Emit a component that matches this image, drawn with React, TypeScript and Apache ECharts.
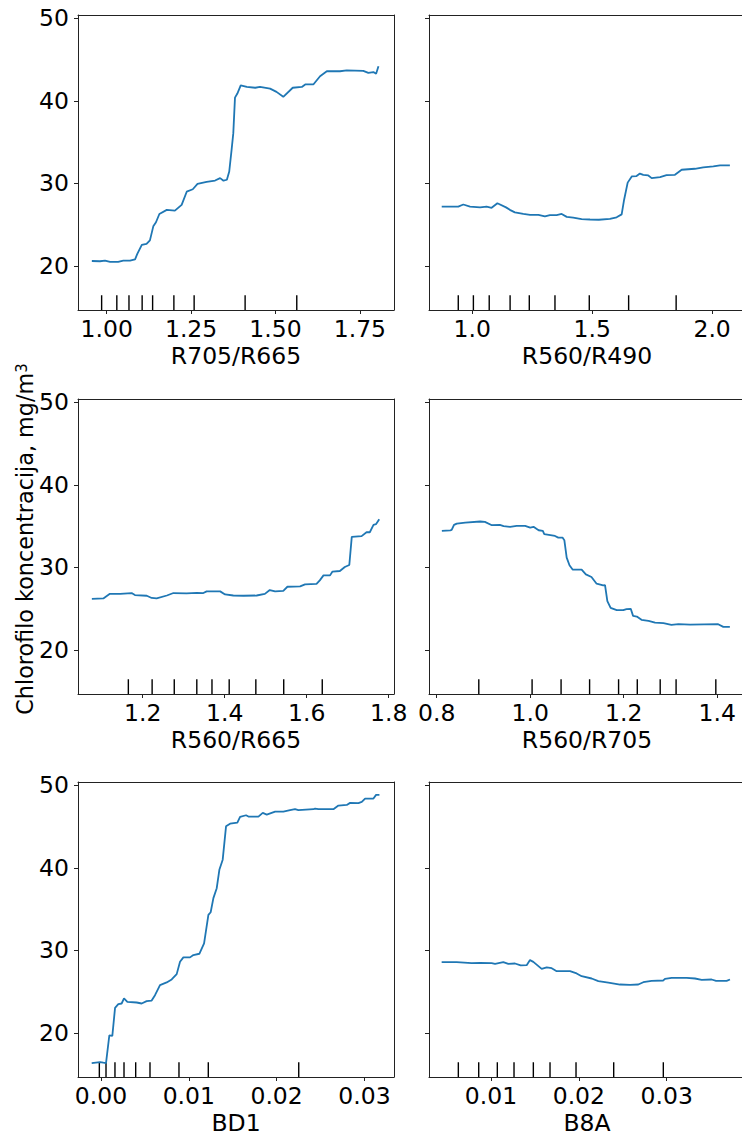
import React, { useEffect, useRef } from "react";
import * as echarts from "echarts";

// ---- data ----
const R705_R665: [number, number][] = [
  [0.956, 20.6], [0.98, 20.57], [0.995, 20.65], [1.01, 20.5], [1.034, 20.5], [1.049, 20.65],
  [1.069, 20.65], [1.084, 20.8], [1.091, 21.5], [1.104, 22.55], [1.118, 22.67], [1.128, 23.1],
  [1.138, 24.8], [1.146, 25.3], [1.156, 26.3], [1.178, 26.8], [1.202, 26.7], [1.222, 27.4],
  [1.237, 29.0], [1.255, 29.3], [1.269, 29.95], [1.296, 30.2], [1.321, 30.35], [1.336, 30.65],
  [1.346, 30.33], [1.356, 30.45], [1.363, 31.45], [1.37, 34.1], [1.375, 36.1], [1.38, 40.4],
  [1.387, 40.9], [1.397, 41.9], [1.415, 41.7], [1.44, 41.6], [1.454, 41.7], [1.484, 41.5],
  [1.503, 41.1], [1.523, 40.5], [1.551, 41.6], [1.578, 41.7], [1.588, 42.0], [1.612, 42.0],
  [1.632, 43.0], [1.652, 43.6], [1.691, 43.6], [1.711, 43.7], [1.76, 43.65], [1.775, 43.4],
  [1.79, 43.5], [1.798, 43.3], [1.805, 44.2],
];
const R560_R490: [number, number][] = [
  [0.873, 27.2], [0.942, 27.2], [0.963, 27.45], [0.991, 27.2], [1.033, 27.1], [1.06, 27.2],
  [1.081, 27.05], [1.105, 27.6], [1.141, 27.1], [1.157, 26.8], [1.178, 26.5], [1.213, 26.3],
  [1.241, 26.2], [1.276, 26.2], [1.303, 26.0], [1.324, 26.15], [1.352, 26.15], [1.373, 26.3],
  [1.394, 25.95], [1.421, 25.87], [1.456, 25.67], [1.491, 25.63], [1.528, 25.6], [1.574, 25.7],
  [1.602, 25.9], [1.623, 26.25], [1.633, 28.0], [1.648, 30.1], [1.665, 30.85], [1.685, 30.9],
  [1.699, 31.2], [1.713, 31.05], [1.734, 30.97], [1.748, 30.65], [1.783, 30.77], [1.81, 31.0],
  [1.845, 31.05], [1.873, 31.66], [1.928, 31.78], [1.963, 31.94], [2.005, 32.06], [2.033, 32.2],
  [2.074, 32.2],
];
const R560_R665: [number, number][] = [
  [1.076, 26.2], [1.104, 26.24], [1.12, 26.8], [1.145, 26.8], [1.173, 26.9], [1.181, 26.65],
  [1.21, 26.57], [1.222, 26.3], [1.234, 26.24], [1.259, 26.6], [1.275, 26.9], [1.307, 26.85],
  [1.332, 26.93], [1.348, 26.9], [1.356, 27.1], [1.389, 27.1], [1.401, 26.73], [1.421, 26.6],
  [1.446, 26.57], [1.478, 26.6], [1.498, 26.8], [1.51, 27.26], [1.523, 27.1], [1.543, 27.17],
  [1.553, 27.66], [1.584, 27.7], [1.596, 27.95], [1.624, 28.0], [1.632, 28.43], [1.641, 29.04],
  [1.657, 29.04], [1.663, 29.5], [1.681, 29.57], [1.693, 30.05], [1.704, 30.3], [1.71, 33.7],
  [1.734, 33.8], [1.746, 34.27], [1.754, 34.27], [1.763, 35.16], [1.769, 35.24], [1.777, 35.85],
];
const R560_R705: [number, number][] = [
  [0.811, 34.43], [0.829, 34.5], [0.832, 34.55], [0.837, 35.16], [0.843, 35.32], [0.861, 35.44],
  [0.893, 35.57], [0.903, 35.53], [0.918, 35.12], [0.935, 35.16], [0.943, 35.0], [0.957, 34.92],
  [0.971, 35.04], [0.989, 35.04], [1.0, 34.84], [1.007, 34.92], [1.018, 34.51], [1.027, 34.43],
  [1.03, 34.03], [1.053, 33.82], [1.06, 33.62], [1.069, 33.62], [1.073, 33.3], [1.078, 31.19],
  [1.084, 30.26], [1.091, 29.73], [1.11, 29.73], [1.119, 29.16], [1.131, 28.84], [1.142, 28.03],
  [1.156, 27.82], [1.16, 27.86], [1.165, 25.92], [1.172, 25.1], [1.185, 24.82], [1.199, 24.82],
  [1.206, 24.95], [1.215, 24.99], [1.22, 24.13], [1.228, 24.05], [1.238, 23.65], [1.253, 23.53],
  [1.267, 23.32], [1.285, 23.24], [1.302, 23.04], [1.317, 23.12], [1.342, 23.08], [1.402, 23.12],
  [1.413, 22.8], [1.427, 22.8],
];
const BD1: [number, number][] = [
  [-0.00106, 16.35], [-0.00011, 16.47], [0.00027, 16.4], [0.00057, 16.35], [0.00095, 19.72],
  [0.00129, 19.64], [0.0016, 23.04], [0.00197, 23.49], [0.00235, 23.57], [0.00262, 24.18],
  [0.003, 23.77], [0.00406, 23.69], [0.00463, 23.57], [0.0052, 23.85], [0.00577, 23.93],
  [0.00615, 24.58], [0.00672, 25.8], [0.00748, 26.12], [0.00805, 26.49], [0.00862, 27.13],
  [0.009, 28.63], [0.00938, 29.16], [0.01014, 29.16], [0.01052, 29.44], [0.0112, 29.6],
  [0.01174, 30.86], [0.01223, 34.31], [0.01249, 34.63], [0.0128, 36.34], [0.01318, 37.55],
  [0.01348, 39.78], [0.01386, 41.0], [0.01424, 45.05], [0.0147, 45.37], [0.01553, 45.5],
  [0.01584, 46.19], [0.01652, 46.39], [0.01679, 46.23], [0.01793, 46.23], [0.01842, 46.67],
  [0.01888, 46.47], [0.01983, 46.83], [0.02077, 46.83], [0.02153, 47.0], [0.0221, 47.12],
  [0.02248, 47.0], [0.02419, 47.12], [0.02438, 47.2], [0.02476, 47.12], [0.02647, 47.12],
  [0.02704, 47.56], [0.02799, 47.64], [0.02837, 47.89], [0.02932, 47.85], [0.0297, 48.0],
  [0.03008, 48.41], [0.03103, 48.41], [0.03133, 48.86], [0.03171, 48.86],
];
const B8A: [number, number][] = [
  [0.00438, 28.58], [0.00609, 28.58], [0.0078, 28.46], [0.00875, 28.5], [0.01008, 28.46],
  [0.01046, 28.38], [0.0114, 28.58], [0.01197, 28.38], [0.01273, 28.42], [0.01338, 28.18],
  [0.01406, 28.22], [0.01444, 28.83], [0.01482, 28.62], [0.01577, 27.77], [0.01634, 27.94],
  [0.01691, 27.85], [0.01748, 27.49], [0.019, 27.49], [0.01975, 27.21], [0.02032, 26.88],
  [0.02146, 26.6], [0.02222, 26.28], [0.02336, 26.11], [0.02469, 25.87], [0.02583, 25.83],
  [0.02677, 25.87], [0.02734, 26.15], [0.02829, 26.32], [0.02962, 26.36], [0.02981, 26.56],
  [0.03057, 26.68], [0.03228, 26.68], [0.03323, 26.6], [0.03399, 26.44], [0.03512, 26.48],
  [0.03562, 26.32], [0.03683, 26.32], [0.03721, 26.48],
];

const DEC_R705_R665 = [0.985, 1.03, 1.066, 1.105, 1.136, 1.199, 1.259, 1.41, 1.563];
const DEC_R560_R490 = [0.942, 1.005, 1.071, 1.158, 1.238, 1.345, 1.488, 1.652, 1.85];
const DEC_R560_R665 = [1.165, 1.223, 1.277, 1.332, 1.369, 1.411, 1.476, 1.544, 1.638];
const DEC_R560_R705 = [0.89, 1.004, 1.066, 1.127, 1.189, 1.229, 1.278, 1.312, 1.397];
const DEC_BD1 = [-0.00019, 0.00057, 0.00159, 0.00262, 0.00395, 0.00558, 0.00888, 0.01222, 0.02252];
const DEC_B8A = [0.00628, 0.0086, 0.01072, 0.01262, 0.01482, 0.01672, 0.01968, 0.02397, 0.02962];

const TICKS_R705_R665 = [1.0, 1.25, 1.5, 1.75];
const TICKS_R560_R490 = [1.0, 1.5, 2.0];
const TICKS_R560_R665 = [1.2, 1.4, 1.6, 1.8];
const TICKS_R560_R705 = [0.8, 1.0, 1.2, 1.4];
const TICKS_BD1 = [0.0, 0.01, 0.02, 0.03];
const TICKS_B8A = [0.01, 0.02, 0.03];
const Y_TICKS = [20, 30, 40, 50];

const Y_LABEL = "Chlorofilo koncentracija, mg/m";
const Y_MIN = 14.66;
const Y_MAX = 50.42;

const FONT = "DejaVu Sans";
const FS = 23.5;
const LINE_COLOR = "#1f77b4";
const FRAME = "#222";

const PANELS = [
  { name: "R705/R665", data: R705_R665, dec: DEC_R705_R665, ticks: TICKS_R705_R665, digits: 2, min: 0.915, max: 1.851, col: 0, row: 0 },
  { name: "R560/R490", data: R560_R490, dec: DEC_R560_R490, ticks: TICKS_R560_R490, digits: 1, min: 0.82, max: 2.137, col: 1, row: 0 },
  { name: "R560/R665", data: R560_R665, dec: DEC_R560_R665, ticks: TICKS_R560_R665, digits: 1, min: 1.0422, max: 1.813, col: 0, row: 1 },
  { name: "R560/R705", data: R560_R705, dec: DEC_R560_R705, ticks: TICKS_R560_R705, digits: 1, min: 0.7835, max: 1.4594, col: 1, row: 1 },
  { name: "BD1", data: BD1, dec: DEC_BD1, ticks: TICKS_BD1, digits: 2, min: -0.00262, max: 0.03337, col: 0, row: 2 },
  { name: "B8A", data: B8A, dec: DEC_B8A, ticks: TICKS_B8A, digits: 2, min: 0.00294, max: 0.03892, col: 1, row: 2 },
];

const LEFTS = [78, 429];
const TOPS = [15, 399, 782];
const W = 316;
const H = 295;

export default function App() {
  const ref = useRef<HTMLDivElement>(null);
  useEffect(() => {
    if (!ref.current) return;
    const chart = echarts.init(ref.current, undefined, { renderer: "svg" });
    const grid: any[] = [];
    const xAxis: any[] = [];
    const yAxis: any[] = [];
    const series: any[] = [];
    const frameLine = { show: true, onZero: false, lineStyle: { color: FRAME, width: 1 } };
    PANELS.forEach((p, i) => {
      grid.push({
        left: LEFTS[p.col],
        top: TOPS[p.row],
        width: W,
        height: H,
        outerBoundsMode: "none",
        show: false,
      });
      xAxis.push({
        type: "value",
        gridIndex: i,
        min: p.min,
        max: p.max,
        name: p.name,
        nameLocation: "middle",
        nameGap: 34,
        nameTextStyle: { fontFamily: FONT, fontSize: FS, color: "#000" },
        axisLine: frameLine,
        axisTick: { show: true, length: 4, customValues: p.ticks, lineStyle: { color: FRAME, width: 1 } },
        axisLabel: {
          show: true,
          customValues: p.ticks,
          margin: 7,
          fontFamily: FONT,
          fontSize: FS,
          color: "#000",
          formatter: (v: number) => v.toFixed(p.digits),
        },
        splitLine: { show: false },
      });
      yAxis.push({
        type: "value",
        gridIndex: i,
        min: Y_MIN,
        max: Y_MAX,
        axisLine: frameLine,
        axisTick: { show: true, length: 4, customValues: Y_TICKS, lineStyle: { color: FRAME, width: 1 } },
        axisLabel: {
          show: p.col === 0,
          customValues: Y_TICKS,
          margin: 9,
          fontFamily: FONT,
          fontSize: FS,
          color: "#000",
          formatter: (v: number) => String(Math.round(v)),
        },
        splitLine: { show: false },
      });
      series.push({
        type: "line",
        xAxisIndex: i,
        yAxisIndex: i,
        data: p.data,
        showSymbol: false,
        symbol: "none",
        lineStyle: { color: LINE_COLOR, width: 1.8 },
        z: 3,
      });
      series.push({
        type: "custom",
        xAxisIndex: i,
        yAxisIndex: i,
        data: p.dec.map((d) => [d, Y_MIN]),
        encode: { x: 0, y: 1 },
        renderItem: (_params: any, api: any) => {
          const x = api.value(0);
          const a = api.coord([x, Y_MIN]);
          const b = api.coord([x, Y_MIN + 0.05 * (Y_MAX - Y_MIN)]);
          return {
            type: "line",
            shape: { x1: a[0], y1: a[1], x2: b[0], y2: b[1] },
            style: { stroke: "#000", lineWidth: 1.4 },
          };
        },
        z: 2,
      });
    });
    // frame: top edge for every panel, right edge for the left column only
    PANELS.forEach((p, i) => {
      xAxis.push({
        type: "value",
        gridIndex: i,
        position: "top",
        min: p.min,
        max: p.max,
        axisLine: frameLine,
        axisTick: { show: false },
        axisLabel: { show: false },
        splitLine: { show: false },
      });
      if (p.col === 0) {
        yAxis.push({
          type: "value",
          gridIndex: i,
          position: "right",
          min: Y_MIN,
          max: Y_MAX,
          axisLine: frameLine,
          axisTick: { show: false },
          axisLabel: { show: false },
          splitLine: { show: false },
        });
      }
    });
    chart.setOption({
      animation: false,
      backgroundColor: "#fff",
      grid,
      xAxis,
      yAxis,
      series,
      graphic: [
        {
          type: "text",
          x: 25,
          y: 539,
          rotation: Math.PI / 2,
          style: {
            text: "{a|" + Y_LABEL + "}{s|3}",
            align: "center",
            verticalAlign: "middle",
            fill: "#000",
            rich: {
              a: { fontFamily: FONT, fontSize: 22.3, fill: "#000", verticalAlign: "bottom" },
              s: { fontFamily: FONT, fontSize: 15, fill: "#000", verticalAlign: "top" },
            },
          },
        },
      ],
    });
    return () => chart.dispose();
  }, []);
  return (
    <div
      style={{
        position: "absolute",
        left: 0,
        top: 0,
        width: 742,
        height: 1131,
        overflow: "hidden",
        background: "#fff",
      }}
    >
      <div ref={ref} style={{ width: 770, height: 1131 }} />
    </div>
  );
}
